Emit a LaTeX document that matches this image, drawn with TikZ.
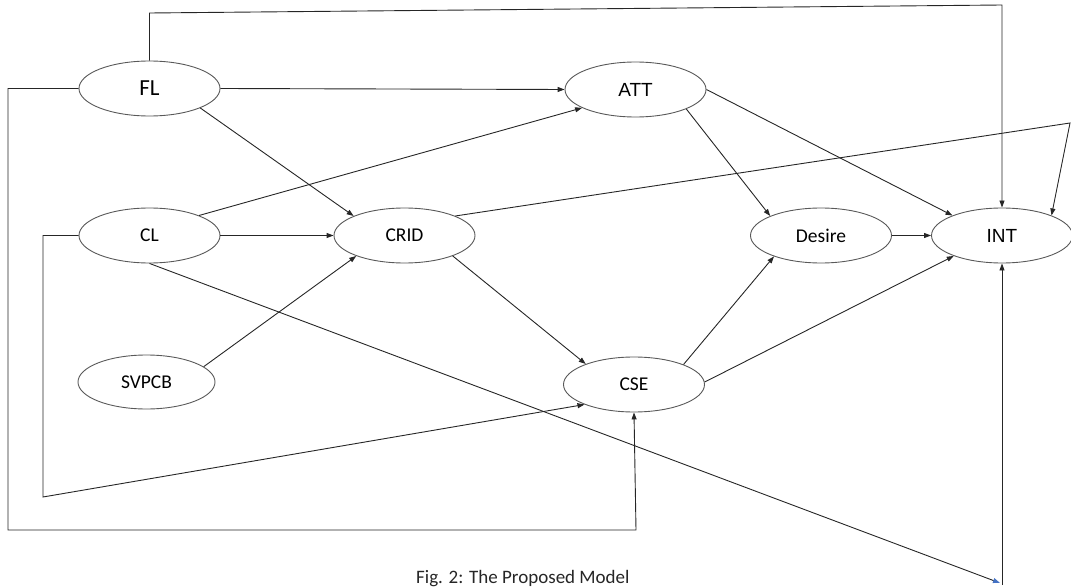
\documentclass[tikz,border=0pt]{standalone}
\usepackage{fontspec}
\setmainfont{Carlito}
\newfontfamily\arialfont{Liberation Sans}
\usetikzlibrary{shapes.geometric,arrows.meta}
\definecolor{tipblue}{HTML}{4472C4}
\begin{document}
\begin{tikzpicture}[x=1pt,y=-1pt,
  var/.style={ellipse,draw=black!65,line width=0.9pt,minimum width=141pt,
    minimum height=55pt,inner sep=0pt,font=\fontsize{19.5}{20}\selectfont},
  link/.style={draw=black!85,line width=0.9pt,-{Triangle[length=7pt,width=5pt]}},
  plain/.style={draw=black!85,line width=0.9pt}]
\useasboundingbox (0,0) rectangle (1071,588);

% constructs
\node[var,font=\fontsize{23}{24}\selectfont] (FL) at (149.5,88.5) {FL};
\node[var,font=\arialfont\fontsize{19}{20}\selectfont] (ATT) at (635.5,89.5) {ATT};
\node[var] (CL) at (149.5,235.5) {CL};
\node[var] (CRID) at (404.5,235.5) {CRID};
\node[var] (Desire) at (821,235.5) {Desire};
\node[var,font=\arialfont\fontsize{19}{20}\selectfont] (INT) at (1002,235.5) {INT};
\node[var,minimum width=137pt,minimum height=54pt] (SVPCB) at (146.5,382) {SVPCB};
\node[var] (CSE) at (634,384.5) {CSE};

% bend points of the routed paths
\coordinate (tl) at (149.5,13);
\coordinate (tr) at (1002,5);
\coordinate (re) at (1070,123);
\coordinate (ol) at (8,88.5);
\coordinate (ob) at (8,530);
\coordinate (oc) at (636,530);
\coordinate (il) at (43,235.5);
\coordinate (ib) at (43,497);
\coordinate (fe) at (1000,583);
\coordinate (fv) at (1002,585);

% direct paths
\draw[link] (FL.east) -- (ATT.west);
\draw[link] (FL.-21) -- (CRID.159);
\draw[link] (CL.22) -- (ATT.199);
\draw[link] (CL.east) -- (CRID.west);
\draw[link] (SVPCB.15) -- (CRID.203);
\draw[link] (CRID.-23) -- (CSE.157);
\draw[link] (ATT.-21) -- (Desire.159);
\draw[link] (ATT.east) -- (INT.158);
\draw[link] (Desire.east) -- (INT.west);
\draw[link] (CSE.22) -- (Desire.204);
\draw[link] (CSE.2) -- (INT.203.5);

% routed paths
\draw[link] (FL.north) -- (tl) -- (tr) -- (INT.north);
\draw[link] (CRID.21) -- (re) -- (INT.22);
\draw[link] (FL.west) -- (ol) -- (ob) -- (oc) -- (CSE.south);
\draw[link] (CL.west) -- (il) -- (ib) -- (CSE.202);
\draw[plain,-{Triangle[length=7pt,width=5pt,color=tipblue]}] (CL.south) -- (fe);
\draw[link] (fv) -- (INT.south);

% caption
\node[anchor=base west,inner sep=0pt,font=\fontsize{19}{20}\selectfont,text=black!85]
  (cap) at (416,583) {Fig. 2: The Proposed Model};
\end{tikzpicture}
\end{document}
